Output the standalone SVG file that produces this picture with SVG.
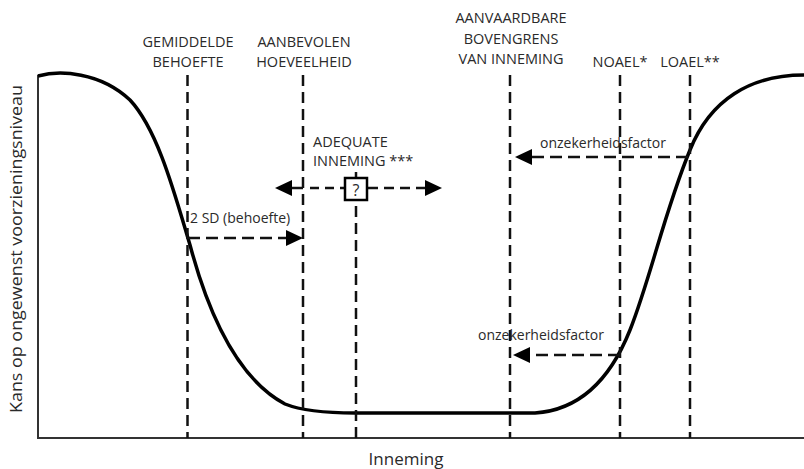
<svg xmlns="http://www.w3.org/2000/svg" width="804" height="469" viewBox="0 0 804 469">
<style>
  text { font-family: "Open Sans", "Liberation Sans", sans-serif; fill: #2a2a2a; }
  .cap { font-size: 14.5px; text-anchor: middle; }
  .lbl { font-size: 14px; }
  .vd { stroke: #111; stroke-width: 2.5; stroke-dasharray: 11 6; fill: none; }
  .hd { stroke: #111; stroke-width: 2.5; stroke-dasharray: 12 6; fill: none; }
  .axis { stroke: #333; stroke-width: 2; fill: none; }
  .curve { stroke: #000; stroke-width: 3.5; fill: none; }
  .head { fill: #000; }
</style>
<rect width="804" height="469" fill="#fff"/>
<g id="axes">
  <path class="axis" d="M38,75 L38,438 L804,438"/>
  <text x="406" y="465" style="font-size:17px" text-anchor="middle">Inneming</text>
  <text transform="translate(22,249) rotate(-90)" style="font-size:16.5px" text-anchor="middle" textLength="328" lengthAdjust="spacingAndGlyphs">Kans op ongewenst voorzieningsniveau</text>
</g>
<g id="curve">
  <path class="curve" d="M38,76 C60,70 100,72 130,100 C158,130 175,195 190,245 C210,320 240,380 285,404 C300,410 320,413 355,413 L535,413 C580,410 610,380 630,330 C650,280 665,210 690,150 C710,100 750,75 804,75"/>
</g>
<g id="connectors">
  <line class="vd" x1="187.5" y1="75" x2="187.5" y2="438"/>
  <line class="vd" x1="303" y1="75" x2="303" y2="438"/>
  <line class="vd" x1="356" y1="172" x2="356" y2="438"/>
  <line class="vd" x1="510" y1="75" x2="510" y2="438"/>
  <line class="vd" x1="620" y1="75" x2="620" y2="438"/>
  <line class="vd" x1="690" y1="75" x2="690" y2="438"/>
  <line class="hd" x1="188" y1="238" x2="290" y2="238"/>
  <polygon class="head" points="303,238 286,230 286,246"/>
  <line stroke="#111" stroke-width="2.5" x1="290" y1="188" x2="303" y2="188"/>
  <line class="hd" x1="310" y1="188" x2="345" y2="188" style="stroke-dasharray:9 6"/>
  <line class="hd" x1="368" y1="188" x2="428" y2="188" style="stroke-dasharray:10 6"/>
  <polygon class="head" points="275,188 292,180 292,196"/>
  <polygon class="head" points="442,188 425,180 425,196"/>
  <line class="hd" x1="688" y1="157" x2="528" y2="157"/>
  <polygon class="head" points="515,157 532,149 532,165"/>
  <line class="hd" x1="620" y1="355" x2="526" y2="355"/>
  <polygon class="head" points="513,355 530,347 530,363"/>
</g>
<g id="box">
  <rect x="345" y="178" width="22" height="22" fill="#fff" stroke="#000" stroke-width="2.5"/>
  <text x="356" y="195.5" style="font-size:16px" text-anchor="middle">?</text>
</g>
<g id="gemiddelde">
  <text class="cap" x="188" y="46.5">GEMIDDELDE</text>
  <text class="cap" x="188" y="66.5">BEHOEFTE</text>
</g>
<g id="aanbevolen">
  <text class="cap" x="304" y="46.5">AANBEVOLEN</text>
  <text class="cap" x="304" y="66.5">HOEVEELHEID</text>
</g>
<g id="aanvaardbare">
  <text class="cap" x="511" y="22.5">AANVAARDBARE</text>
  <text class="cap" x="511" y="43.5">BOVENGRENS</text>
  <text class="cap" x="511" y="64">VAN INNEMING</text>
</g>
<g id="noael">
  <text class="cap" x="620" y="66.5">NOAEL*</text>
</g>
<g id="loael">
  <text class="cap" x="690" y="66.5">LOAEL**</text>
</g>
<g id="adequate">
  <text class="cap" x="313" y="146.5" style="text-anchor:start">ADEQUATE</text>
  <text class="cap" x="313" y="166" style="text-anchor:start">INNEMING ***</text>
</g>
<g id="sd">
  <text class="lbl" x="190" y="223">2 SD (behoefte)</text>
</g>
<g id="factor1">
  <text class="lbl" x="540" y="148">onzekerheidsfactor</text>
</g>
<g id="factor2">
  <text class="lbl" x="478" y="340">onzekerheidsfactor</text>
</g>
</svg>
